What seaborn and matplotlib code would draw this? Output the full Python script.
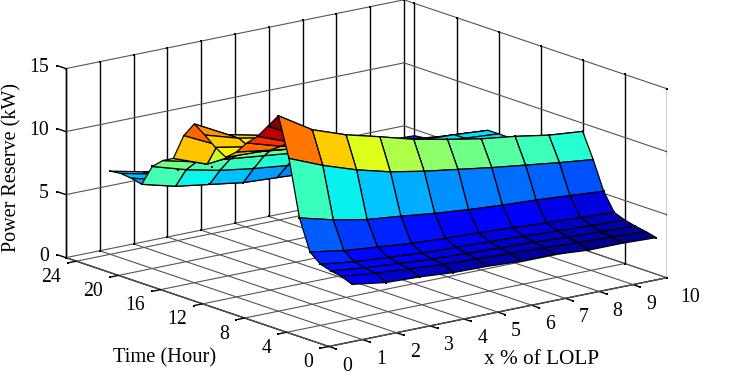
import numpy as np
import seaborn as sns
import matplotlib
matplotlib.use("Agg")
import matplotlib.pyplot as plt
from mpl_toolkits.mplot3d import proj3d

# x % of LOLP along the columns, hour along the rows
lolp = [1, 2, 3, 4, 5, 6, 7, 8, 9, 10]
hours = list(range(1, 25))

reserve = [
    [4.1, 3.7, 3.6, 3.4, 3.35, 3.2, 3.2, 3.0, 3.0, 2.9],
    [4.45, 4.15, 3.95, 3.75, 3.65, 3.55, 3.45, 3.3, 3.2, 3.1],
    [4.6, 4.3, 4.1, 3.9, 3.8, 3.7, 3.6, 3.45, 3.35, 3.25],
    [4.85, 4.5, 4.3, 4.1, 4.0, 3.9, 3.8, 3.65, 3.55, 3.45],
    [5.54, 5.1, 4.84, 4.58, 4.45, 4.33, 4.2, 4.03, 3.9, 3.77],
    [7.96, 7.26, 6.74, 6.46, 6.14, 5.89, 5.7, 5.56, 5.37, 5.17],
    [12.4, 11.3, 10.4, 9.7, 9.2, 8.8, 8.4, 8.05, 7.7, 7.4],
    [15.5, 13.85, 12.9, 12.2, 11.45, 10.9, 10.4, 10.05, 9.6, 9.35],
    [14.4, 13.0, 12.0, 11.2, 10.5, 10.0, 9.5, 9.1, 8.7, 8.4],
    [13.3, 12.3, 11.5, 10.8, 10.2, 9.6, 9.1, 8.7, 8.3, 8.0],
    [12.5, 11.7, 11.0, 10.4, 9.8, 9.3, 8.8, 8.4, 8.0, 7.6],
    [11.5, 11.1, 10.7, 10.1, 9.6, 8.5, 7.9, 7.4, 7.2, 7.0],
    [10.8, 10.7, 10.4, 9.9, 9.4, 8.2, 7.7, 7.2, 7.1, 6.9],
    [11.3, 10.8, 10.4, 9.9, 9.4, 8.0, 7.5, 7.1, 7.1, 6.9],
    [12.0, 11.2, 10.7, 10.1, 9.5, 8.0, 7.5, 7.1, 7.1, 6.9],
    [12.6, 11.2, 10.6, 10.0, 9.4, 8.0, 7.5, 7.1, 7.1, 6.9],
    [11.4, 10.1, 9.8, 9.4, 8.9, 7.9, 7.5, 7.2, 7.1, 6.9],
    [9.3, 8.3, 8.6, 8.6, 8.0, 7.6, 7.2, 7.0, 6.7, 6.5],
    [8.85, 8.2, 7.9, 7.6, 7.3, 7.0, 6.7, 6.4, 6.2, 6.0],
    [8.1, 7.3, 6.7, 6.3, 6.0, 5.8, 5.6, 5.4, 5.2, 5.0],
    [6.4, 5.7, 5.3, 4.9, 4.75, 4.6, 4.5, 4.4, 4.3, 4.2],
    [6.6, 5.9, 5.5, 5.1, 4.9, 4.8, 4.7, 4.6, 4.5, 4.4],
    [6.7, 6.1, 5.7, 5.4, 5.2, 5.0, 4.9, 4.8, 4.7, 4.6],
    [6.6, 6.0, 5.6, 5.3, 5.1, 4.9, 4.8, 4.7, 4.6, 4.5],
]

x_ticks = [0, 1, 2, 3, 4, 5, 6, 7, 8, 9, 10]
time_ticks = [0, 4, 8, 12, 16, 20, 24]
z_ticks = [0, 5, 10, 15]

T_MAX = 25
Z_MAX = 15

sns.set_theme(style="white")
plt.rcParams["font.family"] = ["Liberation Serif", "DejaVu Serif"]

X, Y = np.meshgrid(lolp, hours)
Z = np.array(reserve)

cmap = plt.get_cmap("jet")
colors = cmap(plt.Normalize(Z.min(), Z_MAX)(Z))

fig = plt.figure(figsize=(7.32, 3.85), dpi=100)
ax = fig.add_axes([49 / 732, -105.5 / 385, 618 / 732, 618 / 385], projection="3d", proj_type="ortho")
ax.set_box_aspect((428, 429, 196))
ax.view_init(elev=15.2, azim=-127.8)
ax.computed_zorder = False
ax.patch.set_alpha(0)

ax.set_xlim(0, 10)
ax.set_ylim(0, T_MAX)
ax.set_zlim(0, Z_MAX)


def tick_text(x, y, z, s, ha):
    # flat text placed at the projected point of a data position
    px, py, _ = proj3d.proj_transform(x, y, z, ax.get_proj())
    ax.text2D(px, py, s, transform=ax.transData, ha=ha, va="center", fontsize=14.2, color="black")


# walls and floor drawn by hand, the verticals are black and the rest gray
GRAY = "#555555"
marks = []
for v in x_ticks:
    ax.plot([v, v], [0, T_MAX], [0, 0], color=GRAY, lw=0.8, zorder=1)
    ax.plot([v, v], [T_MAX, T_MAX], [0, Z_MAX], color="black", lw=1.0, zorder=1)
    ax.plot([v, v], [0, -0.7], [0, 0], color="black", lw=1.0, zorder=1)
    marks += [(v, T_MAX, 0), (v, T_MAX, Z_MAX), (v, -0.7, 0)]
    tick_text(v, -1.27, -1.2, str(v), "left")
for t in time_ticks:
    ax.plot([0, 10], [t, t], [0, 0], color=GRAY, lw=0.8, zorder=1)
    ax.plot([10, 10], [t, t], [0, Z_MAX], color="black", lw=1.0, zorder=1)
    ax.plot([0, -0.25], [t, t], [0, 0], color="black", lw=1.0, zorder=1)
    marks += [(10, t, 0), (10, t, Z_MAX), (-0.25, t, 0)]
    tick_text(-0.45, t, -1.03, str(t), "right")
for h in z_ticks:
    ax.plot([0, 10], [T_MAX, T_MAX], [h, h], color=GRAY, lw=0.8, zorder=1)
    ax.plot([10, 10], [0, T_MAX], [h, h], color=GRAY, lw=0.8, zorder=1)
    ax.plot([0, 0], [T_MAX, T_MAX + 0.85], [h, h], color="black", lw=1.0, zorder=1)
    ax.plot([10, 10], [0, -0.7], [h, h], color="black", lw=1.0, zorder=1)
    marks += [(0, T_MAX + 0.85, h), (10, -0.7, h)]
    tick_text(0, T_MAX + 1.6, h - 0.4, str(h), "right")
marks = np.array(marks)
ax.scatter(marks[:, 0], marks[:, 1], marks[:, 2], color="black", marker="s", s=4, linewidths=0,
           depthshade=False, zorder=2)

surf = ax.plot_surface(X, Y, Z, rstride=1, cstride=1, facecolors=colors, shade=False, zorder=3)
surf.set_edgecolor("black")
surf.set_linewidth(0.9)

# little square marks on the vertices that can be seen
seen = Y <= 8
seen |= np.isin(Y, [20, 21, 24]) & (X <= 4)
ax.scatter(X[seen], Y[seen], Z[seen], color="black", marker="s", s=4, linewidths=0,
           depthshade=False, zorder=4)

ax.set_xticks([])
ax.set_yticks([])
ax.set_zticks([])
ax.grid(False)
for axis in (ax.xaxis, ax.yaxis, ax.zaxis):
    axis.set_pane_color((1, 1, 1, 0))
    axis.pane.set_edgecolor((1, 1, 1, 0))
    axis.line.set_color("black")
    axis.line.set_linewidth(1.0)

fig.text(12 / 732, 1 - 167.5 / 385, "Power Reserve (kW)", rotation=90, ha="center", va="center", fontsize=14.5, color="black")
fig.text(165 / 732, 1 - 358 / 385, "Time (Hour)", ha="center", va="center", fontsize=14.8, color="black")
fig.text(542 / 732, 1 - 359 / 385, "x % of LOLP", ha="center", va="center", fontsize=15.3, color="black")

fig.savefig("out.png", dpi=100)
